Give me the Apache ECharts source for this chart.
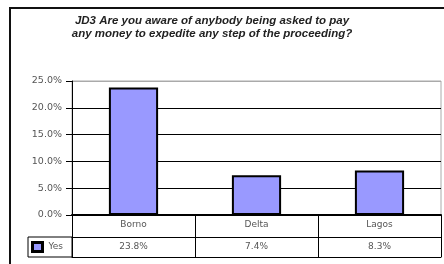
<!DOCTYPE html>
<html>
<head>
<meta charset="utf-8">
<script src="https://cdn.jsdelivr.net/npm/echarts@6/dist/echarts.min.js"></script>
<style>
  html, body { margin: 0; padding: 0; background: #fff; }
  #chart { width: 444px; height: 264px; }
</style>
</head>
<body>
<div id="chart"></div>
<script>
var titleLines = ['JD3 Are you aware of anybody being asked to pay', 'any money to expedite any step of the proceeding?'];
var categories = ['Borno', 'Delta', 'Lagos'];
var seriesName = 'Yes';
var values = [23.8, 7.4, 8.3];
var yTicks = [0, 5, 10, 15, 20, 25];

var labelFont = 'DejaVu Sans';
var myChart = echarts.init(document.getElementById('chart'));

myChart.setOption({
    animation: false,
    title: {
        text: titleLines.join('\n'),
        left: 207,
        top: 10,
        textAlign: 'center',
        textStyle: {
            fontFamily: 'Liberation Sans',
            fontStyle: 'italic',
            fontWeight: 'bold',
            fontSize: 11.5,
            lineHeight: 12.5,
            color: '#222'
        }
    },
    legend: {
        data: [seriesName],
        left: 28,
        top: 237,
        orient: 'horizontal',
        padding: [4, 9, 4, 3],
        itemWidth: 10,
        itemHeight: 9,
        itemGap: 2,
        borderColor: '#000',
        borderWidth: 1,
        borderRadius: 0,
        icon: 'rect',
        itemStyle: { borderColor: '#000', borderWidth: 3 },
        textStyle: { fontFamily: labelFont, fontSize: 9, color: '#555', padding: [0, 0, 0, 1] }
    },
    graphic: [{
        type: 'rect',
        shape: { x: 10, y: 8, width: 500, height: 300 },
        style: { fill: 'none', stroke: '#111', lineWidth: 2 },
        silent: true
    }],
    grid: {
        left: 72,
        right: 3,
        top: 81,
        bottom: 49,
        show: true,
        borderColor: '#aaa',
        borderWidth: 1
    },
    xAxis: [{
        type: 'category',
        data: categories,
        position: 'bottom',
        axisLine: { lineStyle: { color: '#000', width: 2 } },
        axisTick: { show: true, length: 22, lineStyle: { color: '#000', width: 1 } },
        axisLabel: { margin: 5, fontFamily: labelFont, fontSize: 9, color: '#555' }
    }, {
        type: 'category',
        data: values.map(function (v) { return v.toFixed(1) + '%'; }),
        position: 'bottom',
        offset: 22,
        axisLine: { lineStyle: { color: '#000', width: 1 } },
        axisTick: { show: true, length: 20, lineStyle: { color: '#000', width: 1 } },
        axisLabel: { margin: 5, fontFamily: labelFont, fontSize: 9, color: '#555' }
    }, {
        type: 'category',
        data: categories,
        position: 'bottom',
        offset: 42,
        axisLine: { lineStyle: { color: '#000', width: 1 } },
        axisTick: { show: false },
        axisLabel: { show: false }
    }],
    yAxis: {
        type: 'value',
        min: yTicks[0],
        max: yTicks[yTicks.length - 1],
        interval: 5,
        axisLine: { show: true, lineStyle: { color: '#000', width: 1 } },
        axisTick: { show: true, length: 6, lineStyle: { color: '#000' } },
        axisLabel: {
            margin: 10,
            fontFamily: labelFont,
            fontSize: 9.5,
            color: '#555',
            formatter: function (v) { return v.toFixed(1) + '%'; }
        },
        splitLine: {
            show: true,
            lineStyle: { color: ['#000', '#000', '#000', '#000', '#000', '#aaa'], width: 1 }
        }
    },
    series: [{
        name: seriesName,
        type: 'bar',
        xAxisIndex: 0,
        data: values,
        barWidth: '40%',
        itemStyle: {
            color: '#9999ff',
            borderColor: '#000',
            borderWidth: 2
        }
    }]
});
</script>
</body>
</html>
